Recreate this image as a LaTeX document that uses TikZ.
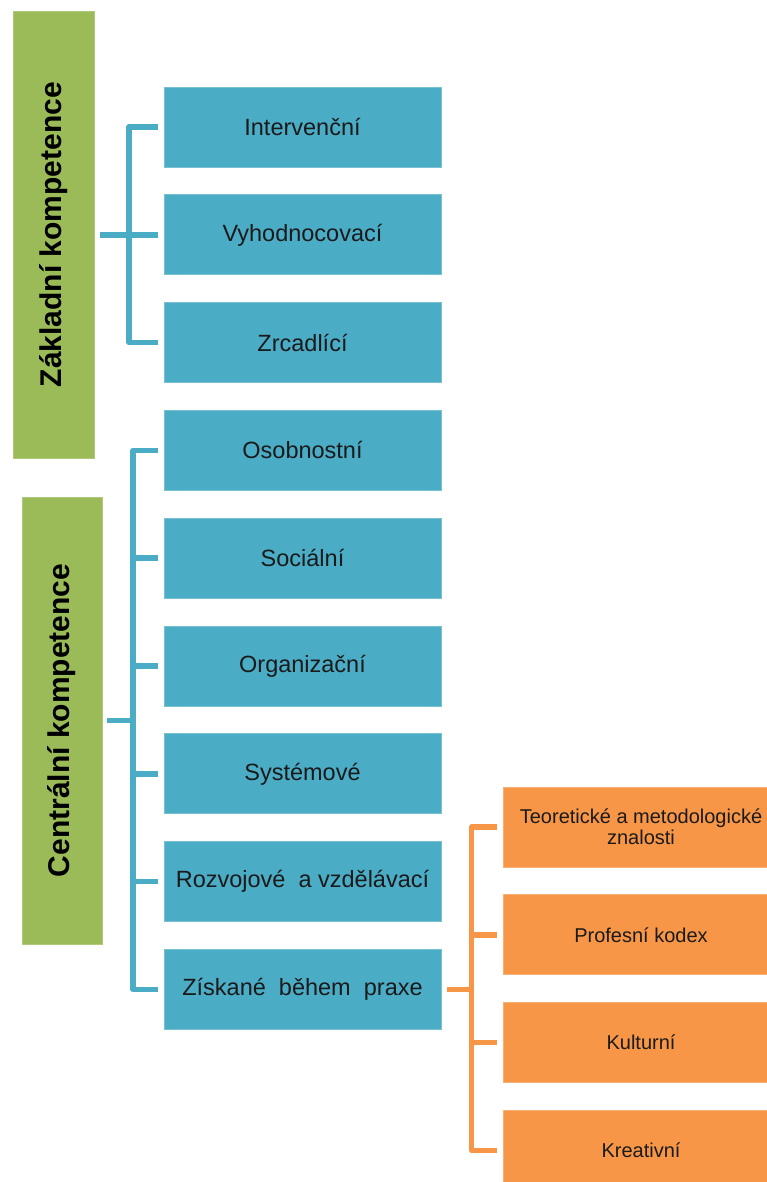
\documentclass[tikz,border=0pt]{standalone}
\usepackage{fontspec}
\setmainfont{Liberation Sans}
\usetikzlibrary{calc}
\definecolor{aqua}{HTML}{4BACC6}
\definecolor{leaf}{HTML}{9BBB59}
\definecolor{amber}{HTML}{F79646}
\definecolor{ink}{HTML}{1A1A1A}
\begin{document}
\begin{tikzpicture}[x=1pt,y=-1pt,
  catbox/.style={rectangle, fill=leaf, draw=leaf!80!white, line width=0.8pt,
    minimum width=81pt, minimum height=447pt, inner sep=0pt},
  cattext/.style={rotate=90, font=\fontsize{30}{34}\selectfont\bfseries, text=black},
  bluebox/.style={rectangle, fill=aqua, draw=aqua!75!white, line width=0.8pt,
    minimum width=277pt, minimum height=80pt, inner sep=0pt,
    font=\fontsize{23.5}{28}\selectfont, text=ink},
  orangebox/.style={rectangle, fill=amber, draw=amber!75!white, line width=0.8pt,
    minimum width=276pt, minimum height=80pt, inner sep=0pt, align=center,
    font=\fontsize{20}{21}\selectfont, text=ink},
  blueline/.style={draw=aqua, line width=5.5pt, line join=round},
  orangeline/.style={draw=amber, line width=5.5pt, line join=round}]

\clip (0,0) rectangle (767,1182);
\fill[white] (0,0) rectangle (767,1182);

% category bars
\node[catbox] (g1) at (53.5,234.5) {};
\node[cattext] at (g1.center) {Základní kompetence};
\node[catbox, minimum width=80pt] (g2) at (62,720.5) {};
\node[cattext] at (g2.center) {Centrální kompetence};

% blue items
\node[bluebox] (b1) at (302.5,127) {Intervenční};
\node[bluebox] (b2) at (302.5,234.8) {Vyhodnocovací};
\node[bluebox] (b3) at (302.5,342.6) {Zrcadlící};
\node[bluebox] (b4) at (302.5,450.4) {Osobnostní};
\node[bluebox] (b5) at (302.5,558.2) {Sociální};
\node[bluebox] (b6) at (302.5,666) {Organizační};
\node[bluebox] (b7) at (302.5,773.8) {Systémové};
\node[bluebox] (b8) at (302.5,881.6) {Rozvojové\ \ a vzdělávací};
\node[bluebox] (b9) at (302.5,989.4) {Získané\ \ během\ \ praxe};

% orange items
\node[orangebox] (o1) at (641,827) {Teoretické a metodologické\\znalosti};
\node[orangebox] (o2) at (641,934.8) {Profesní kodex};
\node[orangebox] (o3) at (641,1042.6) {Kulturní};
\node[orangebox] (o4) at (641,1150.4) {Kreativní};

% first bracket
\coordinate (j1) at ([xshift=-34.5pt]b1.west);
\draw[blueline] ([xshift=-6pt]b1.west) -- (j1) -- (j1 |- b3.west) -- ([xshift=-6pt]b3.west);
\draw[blueline] ([xshift=6pt]g1.east |- b2.west) -- ([xshift=-6pt]b2.west);

% second bracket
\coordinate (j2) at ([xshift=-30.5pt]b4.west);
\draw[blueline] ([xshift=-6pt]b4.west) -- (j2) -- (j2 |- b9.west) -- ([xshift=-6pt]b9.west);
\foreach \n in {b5,b6,b7,b8}
  \draw[blueline] (j2 |- \n.west) -- ([xshift=-6pt]\n.west);
\draw[blueline] ([xshift=5pt]g2.east) -- (j2 |- g2.east);

% third bracket
\coordinate (j3) at ([xshift=-31pt]o1.west);
\draw[orangeline] ([xshift=6pt]b9.east) -- (j3 |- b9.east);
\draw[orangeline] ([xshift=-6pt]o1.west) -- (j3) -- (j3 |- o4.west) -- ([xshift=-6pt]o4.west);
\foreach \n in {o2,o3}
  \draw[orangeline] (j3 |- \n.west) -- ([xshift=-6pt]\n.west);
\end{tikzpicture}
\end{document}
